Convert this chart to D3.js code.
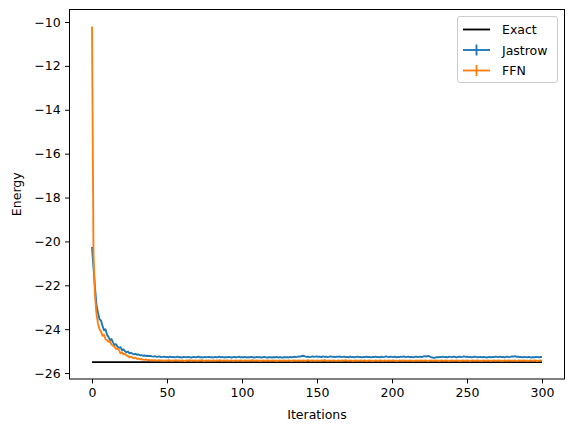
<!DOCTYPE html>
<html>
<head>
<meta charset="utf-8">
<script src="https://cdn.jsdelivr.net/npm/d3@7"></script>
<style>
body { margin: 0; background: #fff; }
text { font-family: "DejaVu Sans", sans-serif; }
</style>
</head>
<body>
<script>
// energies per iteration
const jastrow = [
  -20.25, -21.2, -22.1, -22.9, -23.25, -23.55, -23.6, -23.85, -24.05, -24.0,
  -24.25, -24.35, -24.5, -24.45, -24.6, -24.72, -24.68, -24.8, -24.85, -24.82,
  -24.95, -24.92, -25.0, -25.05, -25.02, -25.1, -25.08, -25.12, -25.15, -25.12,
  -25.17, -25.15, -25.19, -25.18, -25.21, -25.2, -25.22, -25.21, -25.23, -25.22,
  -25.24, -25.25, -25.23, -25.26, -25.25, -25.24, -25.27, -25.26, -25.25, -25.27,
  -25.26, -25.28, -25.25, -25.27, -25.26, -25.28, -25.27, -25.25, -25.28, -25.27,
  -25.29, -25.26, -25.27, -25.28, -25.26, -25.27, -25.29, -25.27, -25.26, -25.28,
  -25.27, -25.25, -25.28, -25.27, -25.29, -25.26, -25.28, -25.27, -25.26, -25.28,
  -25.27, -25.29, -25.26, -25.28, -25.27, -25.25, -25.28, -25.26, -25.29, -25.27,
  -25.28, -25.26, -25.27, -25.29, -25.27, -25.26, -25.28, -25.27, -25.25, -25.28,
  -25.27, -25.28, -25.26, -25.29, -25.27, -25.28, -25.26, -25.27, -25.29, -25.28,
  -25.26, -25.28, -25.27, -25.29, -25.27, -25.26, -25.28, -25.3, -25.27, -25.28,
  -25.29, -25.27, -25.28, -25.26, -25.29, -25.27, -25.28, -25.3, -25.27, -25.28,
  -25.27, -25.29, -25.26, -25.28, -25.27, -25.25, -25.27, -25.26, -25.24, -25.25,
  -25.22, -25.21, -25.24, -25.26, -25.25, -25.27, -25.26, -25.24, -25.26, -25.25,
  -25.24, -25.26, -25.25, -25.27, -25.24, -25.26, -25.25, -25.27, -25.26, -25.24,
  -25.26, -25.25, -25.27, -25.25, -25.26, -25.24, -25.27, -25.26, -25.25, -25.27,
  -25.26, -25.28, -25.25, -25.27, -25.26, -25.28, -25.26, -25.25, -25.27, -25.26,
  -25.28, -25.26, -25.27, -25.25, -25.27, -25.26, -25.28, -25.26, -25.27, -25.25,
  -25.27, -25.26, -25.28, -25.25, -25.27, -25.26, -25.24, -25.26, -25.27, -25.25,
  -25.26, -25.27, -25.25, -25.28, -25.26, -25.27, -25.25, -25.26, -25.24, -25.27,
  -25.26, -25.25, -25.27, -25.26, -25.28, -25.26, -25.25, -25.27, -25.26, -25.25,
  -25.27, -25.24, -25.23, -25.25, -25.22, -25.24, -25.27, -25.29, -25.3, -25.29,
  -25.27, -25.28, -25.26, -25.27, -25.25, -25.27, -25.26, -25.28, -25.25, -25.26,
  -25.27, -25.25, -25.26, -25.28, -25.26, -25.25, -25.27, -25.26, -25.24, -25.26,
  -25.25, -25.27, -25.26, -25.28, -25.27, -25.25, -25.26, -25.28, -25.27, -25.26,
  -25.28, -25.26, -25.27, -25.29, -25.27, -25.26, -25.28, -25.26, -25.27, -25.25,
  -25.26, -25.27, -25.25, -25.27, -25.26, -25.28, -25.26, -25.25, -25.27, -25.26,
  -25.24, -25.25, -25.23, -25.26, -25.25, -25.27, -25.26, -25.28, -25.26, -25.27,
  -25.28, -25.26, -25.27, -25.29, -25.27, -25.28, -25.26, -25.27, -25.28, -25.26,
  -25.27
];

const ffn = [
  -10.2, -20.6, -22.5, -23.3, -23.75, -24.0, -24.1, -24.3, -24.25, -24.45,
  -24.5, -24.58, -24.55, -24.7, -24.75, -24.8, -24.9, -24.88, -24.95, -25.1,
  -25.05, -25.15, -25.12, -25.2, -25.22, -25.28, -25.25, -25.3, -25.32, -25.3,
  -25.35, -25.34, -25.37, -25.36, -25.39, -25.4, -25.38, -25.41, -25.4, -25.42,
  -25.41, -25.42, -25.41, -25.43, -25.42, -25.41, -25.43, -25.42, -25.44, -25.42,
  -25.43, -25.41, -25.42, -25.44, -25.42, -25.43, -25.41, -25.43, -25.42, -25.44,
  -25.42, -25.43, -25.45, -25.42, -25.43, -25.41, -25.44, -25.42, -25.43, -25.42,
  -25.44, -25.42, -25.43, -25.41, -25.43, -25.45, -25.42, -25.43, -25.42, -25.44,
  -25.43, -25.42, -25.44, -25.42, -25.43, -25.41, -25.43, -25.44, -25.42, -25.43,
  -25.42, -25.44, -25.43, -25.42, -25.45, -25.43, -25.42, -25.44, -25.43, -25.42,
  -25.43, -25.45, -25.42, -25.43, -25.44, -25.42, -25.43, -25.41, -25.44, -25.43,
  -25.42, -25.44, -25.43, -25.45, -25.42, -25.43, -25.44, -25.42, -25.43, -25.44,
  -25.43, -25.42, -25.44, -25.43, -25.45, -25.42, -25.43, -25.44, -25.42, -25.43,
  -25.44, -25.42, -25.43, -25.45, -25.43, -25.42, -25.44, -25.43, -25.42, -25.44,
  -25.43, -25.42, -25.44, -25.43, -25.41, -25.43, -25.44, -25.42, -25.43, -25.45,
  -25.42, -25.43, -25.44, -25.42, -25.43, -25.41, -25.43, -25.44, -25.42, -25.43,
  -25.44, -25.42, -25.43, -25.45, -25.42, -25.43, -25.44, -25.42, -25.43, -25.41,
  -25.43, -25.44, -25.42, -25.43, -25.45, -25.43, -25.42, -25.44, -25.43, -25.42,
  -25.44, -25.43, -25.42, -25.45, -25.43, -25.42, -25.44, -25.43, -25.45, -25.42,
  -25.43, -25.44, -25.42, -25.43, -25.45, -25.42, -25.44, -25.43, -25.42, -25.44,
  -25.43, -25.42, -25.44, -25.43, -25.45, -25.42, -25.43, -25.44, -25.42, -25.43,
  -25.44, -25.43, -25.42, -25.44, -25.43, -25.45, -25.42, -25.43, -25.44, -25.42,
  -25.43, -25.44, -25.42, -25.43, -25.45, -25.43, -25.42, -25.44, -25.43, -25.42,
  -25.44, -25.43, -25.45, -25.42, -25.43, -25.44, -25.42, -25.43, -25.45, -25.43,
  -25.42, -25.44, -25.43, -25.42, -25.44, -25.43, -25.45, -25.42, -25.43, -25.44,
  -25.42, -25.43, -25.45, -25.43, -25.42, -25.44, -25.43, -25.42, -25.44, -25.43,
  -25.45, -25.42, -25.43, -25.44, -25.42, -25.43, -25.45, -25.43, -25.42, -25.44,
  -25.43, -25.42, -25.44, -25.43, -25.45, -25.42, -25.43, -25.44, -25.42, -25.43,
  -25.44, -25.43, -25.42, -25.45, -25.43, -25.42, -25.44, -25.43, -25.42, -25.44,
  -25.43, -25.45, -25.42, -25.43, -25.44, -25.42, -25.43, -25.45, -25.43, -25.42,
  -25.43
];

const exactEnergy = -25.5;
const xTicks = [0, 50, 100, 150, 200, 250, 300];
const yTicks = [-26, -24, -22, -20, -18, -16, -14, -12, -10];
const seriesNames = ["Exact", "Jastrow", "FFN"];
const seriesColors = ["#000000", "#1f77b4", "#ff7f0e"];

// figure layout (matplotlib-like)
const W = 574, H = 432;
const frame = {left: 69.5, right: 564.5, top: 9.5, bottom: 379};
const lw = 1.87;

const svg = d3.select("body").append("svg")
  .attr("width", W)
  .attr("height", H);

const x = d3.scaleLinear().domain([-15, 315]).range([frame.left, frame.right]);
const y = d3.scaleLinear().domain([-26.27, -9.43]).range([frame.bottom, frame.top]);

const fmt = d => String(d).replace("-", "\u2212");

// axes
const xAxis = svg.append("g")
  .attr("transform", "translate(0," + frame.bottom + ")")
  .call(d3.axisBottom(x).tickValues(xTicks).tickFormat(fmt).tickSize(4.4).tickPadding(4.4));
const yAxis = svg.append("g")
  .attr("transform", "translate(" + frame.left + ",0)")
  .call(d3.axisLeft(y).tickValues(yTicks).tickFormat(fmt).tickSize(4.4).tickPadding(4.4));

[xAxis, yAxis].forEach(function(a){
  a.select(".domain").remove();
  a.selectAll("line").attr("stroke", "#000").attr("stroke-width", 1);
  a.selectAll("text").attr("fill", "#000").style("font-size", "12.5px").style("font-family", "DejaVu Sans");
});

// lines
const line = d3.line()
  .x(function(d, i){ return x(i); })
  .y(function(d){ return y(d); });

svg.append("line")
  .attr("x1", x(0)).attr("x2", x(jastrow.length - 1))
  .attr("y1", y(exactEnergy)).attr("y2", y(exactEnergy))
  .attr("stroke", seriesColors[0])
  .attr("stroke-width", lw);

[jastrow, ffn].forEach(function(s, k){
  svg.append("path")
    .datum(s)
    .attr("d", line)
    .attr("fill", "none")
    .attr("stroke", seriesColors[k + 1])
    .attr("stroke-width", lw)
    .attr("stroke-linejoin", "round");
});

// frame
svg.append("rect")
  .attr("x", frame.left).attr("y", frame.top)
  .attr("width", frame.right - frame.left)
  .attr("height", frame.bottom - frame.top)
  .attr("fill", "none")
  .attr("stroke", "#000")
  .attr("stroke-width", 1);

// axis titles
svg.append("text")
  .attr("x", (frame.left + frame.right) / 2)
  .attr("y", 419)
  .attr("text-anchor", "middle")
  .style("font-size", "12.5px")
  .text("Iterations");

svg.append("text")
  .attr("transform", "translate(21," + ((frame.top + frame.bottom) / 2) + ") rotate(-90)")
  .attr("text-anchor", "middle")
  .style("font-size", "12.5px")
  .text("Energy");

// legend
const legend = svg.append("g");
legend.append("rect")
  .attr("x", 457.5).attr("y", 16.5)
  .attr("width", 100).attr("height", 66)
  .attr("rx", 2.5)
  .attr("fill", "#fff")
  .attr("fill-opacity", 0.8)
  .attr("stroke", "#cccccc")
  .attr("stroke-width", 1);

const rows = legend.selectAll("g.row")
  .data(seriesNames)
  .enter().append("g")
  .attr("class", "row")
  .attr("transform", function(d, i){ return "translate(0," + (29.5 + i * 20.5) + ")"; });

rows.append("line")
  .attr("x1", 463).attr("x2", 490)
  .attr("y1", 0).attr("y2", 0)
  .attr("stroke", function(d, i){ return seriesColors[i]; })
  .attr("stroke-width", lw);

rows.filter(function(d, i){ return i > 0; })
  .append("line")
  .attr("x1", 476.5).attr("x2", 476.5)
  .attr("y1", -5.5).attr("y2", 5.5)
  .attr("stroke", function(d, i){ return seriesColors[i + 1]; })
  .attr("stroke-width", lw);

rows.append("text")
  .attr("x", 502)
  .attr("y", 0)
  .attr("dy", "0.36em")
  .style("font-size", "12.5px")
  .text(function(d){ return d; });
</script>
</body>
</html>
